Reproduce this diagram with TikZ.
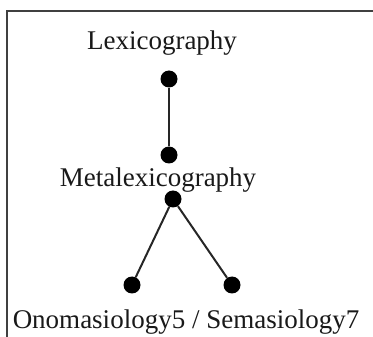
\documentclass[tikz,border=0pt]{standalone}
\usepackage{fontspec}
\setmainfont{Liberation Serif}
\usetikzlibrary{positioning}

\begin{document}
\begin{tikzpicture}[
    x=1pt, y=-1pt,
    term/.style={inner sep=0pt, anchor=base, text=black!90, font=\fontsize{27}{32}\selectfont},
    dot/.style={circle, fill=black, inner sep=0pt, minimum size=17pt},
    link/.style={line width=2pt, draw=black!85},
    frame/.style={line width=1.5pt, draw=black!75},
]
    \useasboundingbox (0,0) rectangle (373,337);
    \draw[frame] (373,11) -- (7,11) -- (7,337);

    \node[term] (lex) at (162,50) {Lexicography};
    \node[dot] (d1) at (169,79) {};
    \node[dot] (d2) at (169,155) {};

    \node[term] (meta) at (158,186) {Metalexicography};
    \node[dot] (d3) at (173,199) {};

    \node[dot] (d4) at (132,285) {};
    \node[dot] (d5) at (232,285) {};
    \node[term] (ono) at (186,328) {Onomasiology5 / Semasiology7};

    \draw[link] (d1) -- (d2);
    \draw[link] (d3) -- (d4);
    \draw[link] (d3) -- (d5);

\end{tikzpicture}
\end{document}
